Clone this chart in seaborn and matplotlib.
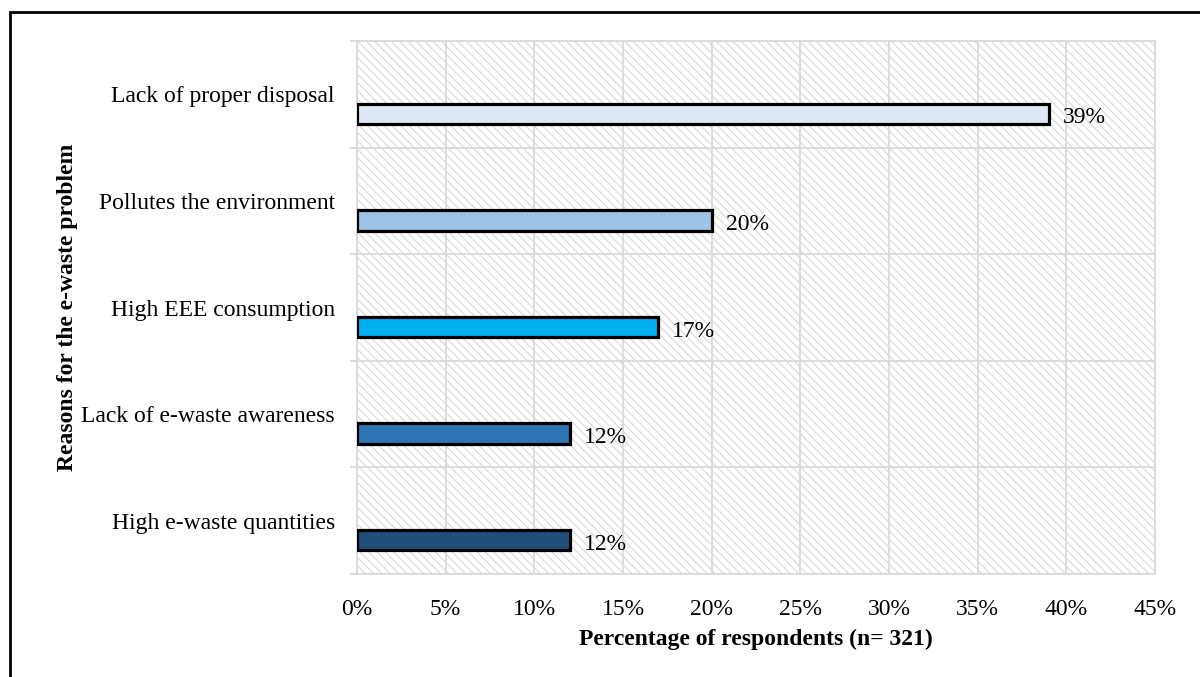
import matplotlib
matplotlib.use("Agg")
import matplotlib.pyplot as plt
from matplotlib.patches import Rectangle
from matplotlib.ticker import FuncFormatter, FixedLocator
import seaborn as sns
import pandas as pd

# Survey responses: reasons for the e-waste problem
reasons = [
    "Lack of proper disposal",
    "Pollutes the environment",
    "High EEE consumption",
    "Lack of e-waste awareness",
    "High e-waste quantities",
]
percentages = [39, 20, 17, 12, 12]
bar_colors = ["#DDE8F4", "#9DC3E6", "#00B0F0", "#2E75B6", "#1F4E79"]
x_ticks = [0, 5, 10, 15, 20, 25, 30, 35, 40, 45]

df = pd.DataFrame({"reason": reasons, "pct": percentages})

sns.set_theme(style="white")
plt.rcParams["font.family"] = ["Liberation Serif", "DejaVu Serif"]
plt.rcParams["text.color"] = "black"
plt.rcParams["axes.labelcolor"] = "black"
plt.rcParams["xtick.color"] = "black"
plt.rcParams["ytick.color"] = "black"
plt.rcParams["hatch.color"] = "#D9D9D9"
plt.rcParams["hatch.linewidth"] = 0.8

FS = 17

fig = plt.figure(figsize=(12, 6.77), dpi=100)
ax = fig.add_axes([357 / 1200, 1 - 574 / 677, 798 / 1200, 533 / 677])

# Hatched plot-area background
ax.add_patch(Rectangle((0, 0), 1, 1, transform=ax.transAxes, facecolor="white",
                       edgecolor="#D9D9D9", hatch="\\\\\\\\", lw=0, zorder=0))

sns.barplot(data=df, y="reason", x="pct", hue="reason", palette=bar_colors,
            order=reasons, hue_order=reasons, dodge=False, legend=False,
            saturation=1, width=0.19, edgecolor="black", linewidth=2.3,
            ax=ax, zorder=3)

# Category labels sit above their bars, in the middle of each band
shift = 0.183
ax.set_ylim(len(reasons) - 0.5 - shift, -0.5 - shift)
ax.yaxis.set_major_locator(FixedLocator([i - shift for i in range(len(reasons))]))
ax.set_yticklabels(reasons)
ax.yaxis.set_minor_locator(FixedLocator([i - 0.5 - shift for i in range(len(reasons) + 1)]))
ax.tick_params(axis="y", which="major", length=0, pad=16, labelsize=FS, labelcolor="black")
ax.tick_params(axis="y", which="minor", length=5, width=1.3, color="#D9D9D9", left=True)
ax.grid(True, axis="y", which="minor", color="#D9D9D9", lw=1.3, zorder=1)

ax.set_xlim(0, 45)
ax.set_xticks(x_ticks)
ax.xaxis.set_major_formatter(FuncFormatter(lambda v, _: f"{v:.0f}%"))
ax.tick_params(axis="x", length=0, pad=18, labelsize=FS, labelcolor="black")
ax.grid(True, axis="x", which="major", color="#D9D9D9", lw=1.3, zorder=1)
ax.set_axisbelow(True)

for s in ax.spines.values():
    s.set_color("#D9D9D9")
    s.set_linewidth(1.3)

for c in ax.containers:
    for ann in ax.bar_label(c, fmt="%.0f%%", padding=10, fontsize=FS, color="black"):
        ann.xyann = (10, -3)

ax.set_xlabel("Percentage of respondents (n= 321)", fontsize=FS, fontweight="bold")
ax.set_ylabel("Reasons for the e-waste problem", fontsize=FS, fontweight="bold")
ax.xaxis.set_label_coords(0.5, -0.103)
ax.yaxis.set_label_coords(-0.350, 0.5)

# Black frame around the figure, open at right and bottom
fig.add_artist(Rectangle((10 / 1200, -0.1), 1.2, 1 - 12 / 677 + 0.1,
                         transform=fig.transFigure, fill=False,
                         edgecolor="black", lw=2, clip_on=False))

fig.savefig("out.png", dpi=100)
